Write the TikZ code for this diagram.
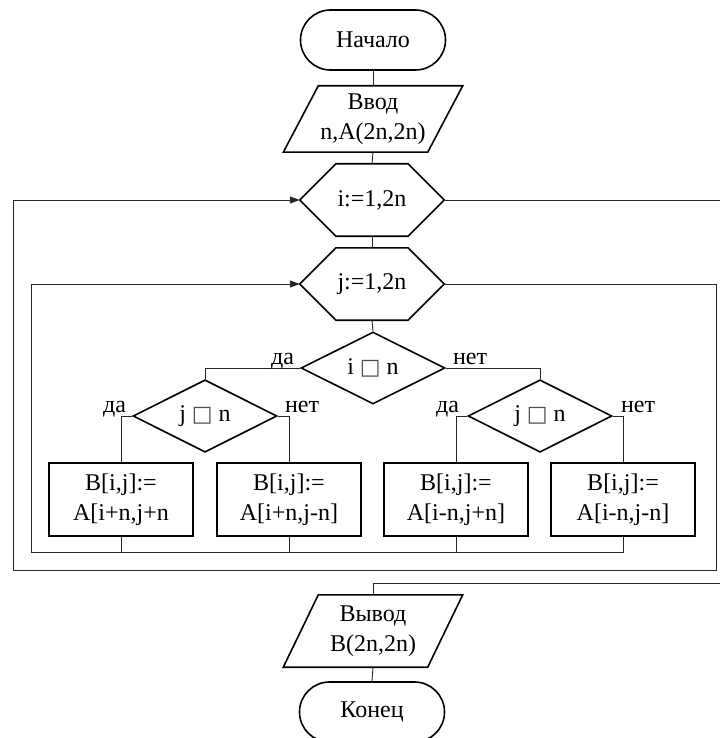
\documentclass[tikz,border=0pt]{standalone}
\usepackage{fontspec}
\setmainfont{Liberation Serif}
\newfontfamily\symfont{DejaVu Sans}
\usetikzlibrary{shapes.geometric,shapes.misc,arrows.meta,calc}

\newcommand{\flowfont}{\fontsize{24}{30}\selectfont}
\newcommand{\lesym}{{\symfont\fontsize{22}{22}\selectfont\color{black!70}□}}

\tikzset{
  outline/.style={draw=black, line width=1.6pt, line join=miter},
  conn/.style={draw=black!85, line width=0.9pt},
  loopback/.style={conn, -{Triangle[length=10pt,width=7pt]}},
  term/.style={rounded rectangle, outline, minimum width=145pt, minimum height=60pt,
    inner sep=0pt, font=\flowfont},
  iobox/.style={minimum width=144pt, minimum height=72pt, inner sep=0pt,
    align=center, font=\flowfont},
  loopbox/.style={minimum width=144pt, minimum height=72pt, inner sep=0pt, font=\flowfont},
  cond/.style={diamond, outline, minimum width=144pt, minimum height=72pt,
    inner sep=0pt, font=\flowfont},
  proc/.style={rectangle, outline, minimum width=144pt, minimum height=73pt,
    inner sep=0pt, align=center, font=\flowfont},
  branch/.style={font=\flowfont, inner sep=0pt},
}

\begin{document}
\begin{tikzpicture}[x=1pt,y=-1pt]
  \fill[white] (0,0) rectangle (720,738);
  \useasboundingbox (0,0) rectangle (720,738);
  \clip (0,0) rectangle (720,738);

  % blocks
  \node[term]    (start) at (373,40)    {Начало};
  \node[iobox, minimum height=66pt] (vvod) at (373,119) {Ввод\\n,A(2n,2n)};
  \node[loopbox] (ihex)  at (372,200)   {i:=1,2n};
  \node[loopbox] (jhex)  at (372,284)   {j:=1,2n};
  \node[cond]    (icond) at (373,368)   {i \lesym{} n};
  \node[cond]    (ljc)   at (205,416)   {j \lesym{} n};
  \node[cond]    (rjc)   at (540,416)   {j \lesym{} n};
  \node[proc]    (b1)    at (121,499.5) {B[i,j]:=\\A[i+n,j+n};
  \node[proc]    (b2)    at (289,499.5) {B[i,j]:=\\A[i+n,j-n]};
  \node[proc]    (b3)    at (456,499.5) {B[i,j]:=\\A[i-n,j+n]};
  \node[proc]    (b4)    at (623,499.5) {B[i,j]:=\\A[i-n,j-n]};
  \node[iobox]   (vyvod) at (373,631)   {Вывод\\B(2n,2n)};
  \node[term]    (stop)  at (372,712)   {Конец};

  % parallelogram outlines of the input/output blocks
  \foreach \n in {vvod,vyvod}{
    \draw[outline] ($(\n.south west)+(-17.5,0)$) -- ($(\n.south east)+(-17.5,0)$)
      -- ($(\n.north east)+(17.5,0)$) -- ($(\n.north west)+(17.5,0)$) -- cycle;
  }
  % hexagon outlines of the loop headers
  \foreach \n in {ihex,jhex}{
    \draw[outline] (\n.west) -- ($(\n.north)+(-36,0)$) -- ($(\n.north)+(36,0)$)
      -- (\n.east) -- ($(\n.south)+(36,0)$) -- ($(\n.south)+(-36,0)$) -- cycle;
  }

  % main flow
  \draw[conn] (start.south) -- (vvod.north);
  \draw[conn] (vvod.south) -- (ihex.north);
  \draw[conn] (ihex.south) -- (jhex.north);
  \draw[conn] (jhex.south) -- (icond.north);
  \draw[conn] (icond.west) -| (ljc.north);
  \draw[conn] (icond.east) -| (rjc.north);
  \draw[conn] (ljc.west) -| (b1.north);
  \draw[conn] (ljc.east) -| (b2.north);
  \draw[conn] (rjc.west) -| (b3.north);
  \draw[conn] (rjc.east) -| (b4.north);

  % inner loop return (j)
  \coordinate (jl) at (31,552);
  \foreach \n in {b1,b2,b3}{
    \draw[conn] (\n.south) -- (\n.south |- jl);
  }
  \draw[loopback] (b4.south) |- (jl) |- (jhex.west);

  % outer loop return (i)
  \coordinate (oR) at (716,570);
  \coordinate (oL) at (13,570);
  \draw[loopback] (jhex.east) -| (oR) -- (oL) |- (ihex.west);

  % loop exit towards the output
  \coordinate (iexit) at (720,200);
  \coordinate (iret) at (720,583);
  \draw[conn] (ihex.east) -- (iexit);
  \draw[conn] (iret) -| (vyvod.north);
  \draw[conn] (vyvod.south) -- (stop.north);

  % branch labels
  \node[branch, anchor=base east] (ly0) at ($(icond.west)+(-6,-4)$) {да};
  \node[branch, anchor=base west] (ln0) at ($(icond.east)+(7,-4)$)  {нет};
  \node[branch, anchor=base east] (ly1) at ($(ljc.west)+(-6,-4)$)   {да};
  \node[branch, anchor=base west] (ln1) at ($(ljc.east)+(7,-4)$)    {нет};
  \node[branch, anchor=base east] (ly2) at ($(rjc.west)+(-8,-4)$)   {да};
  \node[branch, anchor=base west] (ln2) at ($(rjc.east)+(8,-4)$)    {нет};
\end{tikzpicture}
\end{document}
